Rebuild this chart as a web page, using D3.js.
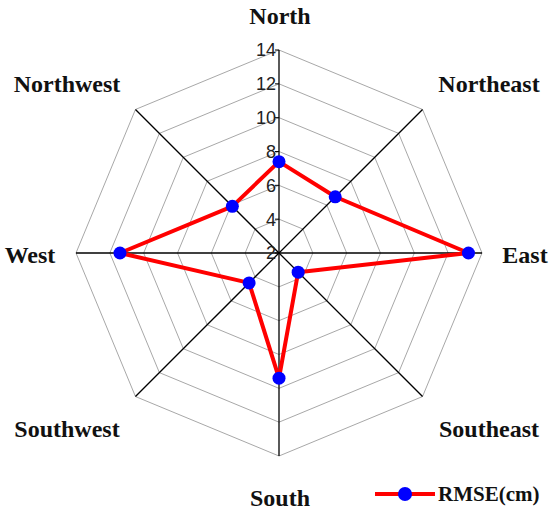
<!DOCTYPE html>
<html>
<head>
<meta charset="utf-8">
<script src="https://cdn.jsdelivr.net/npm/d3@7"></script>
<style>
  body { margin: 0; background: #fff; }
  svg { display: block; }
</style>
</head>
<body>
<svg id="radar" width="550" height="512"></svg>
<script>
const directions = ['North', 'Northeast', 'East', 'Southeast', 'South', 'Southwest', 'West', 'Northwest'];
const rmse = [7.4, 6.7, 13.2, 3.6, 9.4, 4.5, 11.4, 5.9];
const ticks = [2, 4, 6, 8, 10, 12, 14];
const seriesName = 'RMSE(cm)';

let cx = 279, cy = 253, R = 203;

let svg = d3.select('#radar');
let g = svg.append('g').attr('transform', `translate(${cx},${cy})`);

let r = d3.scaleLinear().domain([2, 14]).range([0, R]);
let angle = d3.scaleLinear().domain([0, directions.length]).range([0, 2 * Math.PI]);

let pt = (i, v) => {
    let a = angle(i);
    return [Math.sin(a) * r(v), -Math.cos(a) * r(v)];
};

// grey octagon rings
ticks.slice(1).forEach(t => {
    g.append('polygon')
     .attr('points', directions.map((d, i) => pt(i, t).join(',')).join(' '))
     .attr('fill', 'none')
     .attr('stroke', '#a8a8a8')
     .attr('stroke-width', 1);
});

// axes from centre
g.selectAll('.spoke')
 .data(directions)
 .enter().append('line')
 .attr('x1', 0).attr('y1', 0)
 .attr('x2', (d, i) => pt(i, 14)[0])
 .attr('y2', (d, i) => pt(i, 14)[1])
 .attr('stroke', '#000')
 .attr('stroke-width', 1.3);

// tick labels on the north axis
let tk = g.selectAll('.tick')
          .data(ticks)
          .enter().append('g')
          .attr('transform', d => `translate(0,${-r(d)})`);
tk.append('line')
  .attr('x1', -4).attr('x2', 0)
  .attr('stroke', '#000');
tk.append('text')
  .attr('x', -3)
  .attr('dy', '0.36em')
  .attr('text-anchor', 'end')
  .attr('font-family', 'Liberation Sans, Arial, sans-serif')
  .attr('font-size', 18)
  .attr('fill', '#222')
  .text(d => d);

// direction labels
const labelPos = [
    [280, 24, 'middle'], [489, 92, 'middle'], [525, 263, 'middle'], [489, 437, 'middle'],
    [280, 506, 'middle'], [67, 437, 'middle'], [30, 263, 'middle'], [67, 92, 'middle']
];
svg.selectAll('.dir')
   .data(directions)
   .enter().append('text')
   .attr('x', (d, i) => labelPos[i][0])
   .attr('y', (d, i) => labelPos[i][1])
   .attr('text-anchor', (d, i) => labelPos[i][2])
   .attr('font-family', 'Liberation Serif, Times New Roman, serif')
   .attr('font-weight', 'bold')
   .attr('font-size', 24)
   .attr('fill', '#111')
   .text(d => d);

// data series
let line = d3.line().curve(d3.curveLinearClosed);
g.append('path')
 .datum(rmse.map((v, i) => pt(i, v)))
 .attr('d', line)
 .attr('fill', 'none')
 .attr('stroke', '#ff0000')
 .attr('stroke-width', 4)
 .attr('stroke-linejoin', 'round');

g.selectAll('.dot')
 .data(rmse)
 .enter().append('circle')
 .attr('cx', (d, i) => pt(i, d)[0])
 .attr('cy', (d, i) => pt(i, d)[1])
 .attr('r', 6.5)
 .attr('fill', '#0000ff');

// legend
let lg = svg.append('g').attr('transform', 'translate(375,494)');
lg.append('line').attr('x1', 0).attr('x2', 60)
  .attr('stroke', '#ff0000').attr('stroke-width', 4);
lg.append('circle').attr('cx', 30).attr('r', 7).attr('fill', '#0000ff');
lg.append('text')
  .attr('x', 63).attr('y', 7)
  .attr('font-family', 'Liberation Serif, Times New Roman, serif')
  .attr('font-weight', 'bold')
  .attr('font-size', 21)
  .attr('fill', '#111')
  .text(seriesName);
</script>
</body>
</html>
